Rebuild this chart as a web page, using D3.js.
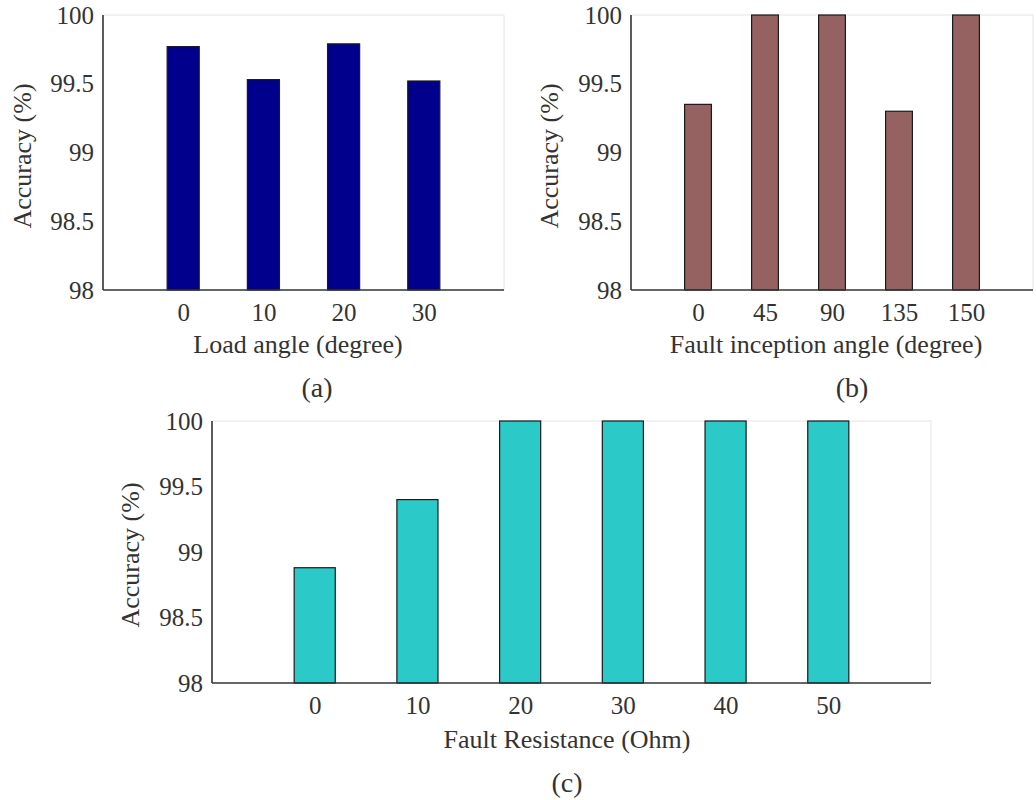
<!DOCTYPE html>
<html>
<head>
<meta charset="utf-8">
<script src="https://cdn.jsdelivr.net/npm/d3@7"></script>
<style>
  body { margin: 0; background: #fff; }
  svg { display: block; }
</style>
</head>
<body>
<svg width="1036" height="800" font-family="Liberation Serif"></svg>
<script>
// values
var loadAngles = ["0", "10", "20", "30"];
var loadAcc = [99.77, 99.53, 99.79, 99.52];

var inceptionAngles = ["0", "45", "90", "135", "150"];
var inceptionAcc = [99.35, 100, 100, 99.30, 100];

var resistances = ["0", "10", "20", "30", "40", "50"];
var resistanceAcc = [98.88, 99.40, 100, 100, 100, 100];

var yTicks = [98, 98.5, 99, 99.5, 100];
var yLimits = [98, 100];

var serif = "Liberation Serif";
var ink = "#333";

var svg = d3.select("svg");

var panels = [
  { cats: loadAngles, vals: loadAcc, color: "#00008c",
    box: [103, 504, 15, 290], xlabel: "Load angle (degree)", xl: [298, 353],
    cap: "(a)", cp: [317, 397], yl: [22, 156] },
  { cats: inceptionAngles, vals: inceptionAcc, color: "#966161",
    box: [631, 1033, 15, 290], xlabel: "Fault inception angle (degree)", xl: [826, 353],
    cap: "(b)", cp: [852, 397], yl: [549, 156] },
  { cats: resistances, vals: resistanceAcc, color: "#2cc9c9",
    box: [212, 931, 421, 683], xlabel: "Fault Resistance (Ohm)", xl: [567, 748],
    cap: "(c)", cp: [567, 792], yl: [130, 555] }
];

function label(sel, size) {
  return sel.attr("font-family", serif)
    .attr("font-size", size)
    .attr("fill", ink);
}

panels.forEach(function (p) {
  var left = p.box[0], right = p.box[1], top = p.box[2], bottom = p.box[3];
  var n = p.cats.length;

  var x = d3.scaleLinear().domain([0, n + 1]).range([left, right]);
  var y = d3.scaleLinear().domain(yLimits).range([bottom, top]);
  var barW = x(0.4) - x(0);

  var g = svg.append("g");

  // faint box (top / right), like the matlab axes
  g.append("path")
    .attr("d", `M${left},${top}H${right}V${bottom}`)
    .attr("fill", "none")
    .attr("stroke", "#e4e4e4")
    .attr("stroke-width", 1);

  g.selectAll("rect")
    .data(p.vals)
    .enter().append("rect")
    .attr("x", (d, i) => x(i + 1) - barW / 2)
    .attr("y", d => y(d))
    .attr("width", barW)
    .attr("height", d => y(yLimits[0]) - y(d))
    .attr("fill", p.color)
    .attr("stroke", "#1a1a1a")
    .attr("stroke-width", 1.2);

  var yAxis = g.append("g")
    .attr("transform", `translate(${left},0)`)
    .call(d3.axisLeft(y).tickValues(yTicks).tickSize(0).tickPadding(9)
      .tickFormat(d3.format("")));

  var xAxis = g.append("g")
    .attr("transform", `translate(0,${bottom})`)
    .call(d3.axisBottom(x).tickValues(d3.range(1, n + 1)).tickSize(0).tickPadding(13)
      .tickFormat(d => p.cats[d - 1]));

  [xAxis, yAxis].forEach(function (a) {
    a.attr("font-family", serif).attr("font-size", 25);
    a.select(".domain").attr("stroke", ink).attr("stroke-width", 1.6);
    label(a.selectAll("text"), 25);
  });
  xAxis.select(".domain").attr("d", `M${left},0H${right}`);
  yAxis.select(".domain").attr("d", `M0,${top}V${bottom}`);

  label(g.append("text"), 26)
    .attr("x", p.xl[0]).attr("y", p.xl[1])
    .attr("text-anchor", "middle")
    .text(p.xlabel);

  label(g.append("text"), 28)
    .attr("x", p.cp[0]).attr("y", p.cp[1])
    .attr("text-anchor", "middle")
    .text(p.cap);

  label(g.append("text"), 26)
    .attr("transform", `translate(${p.yl[0]},${p.yl[1]}) rotate(-90)`)
    .attr("text-anchor", "middle")
    .attr("dy", "0.35em")
    .text("Accuracy (%)");
});
</script>
</body>
</html>
